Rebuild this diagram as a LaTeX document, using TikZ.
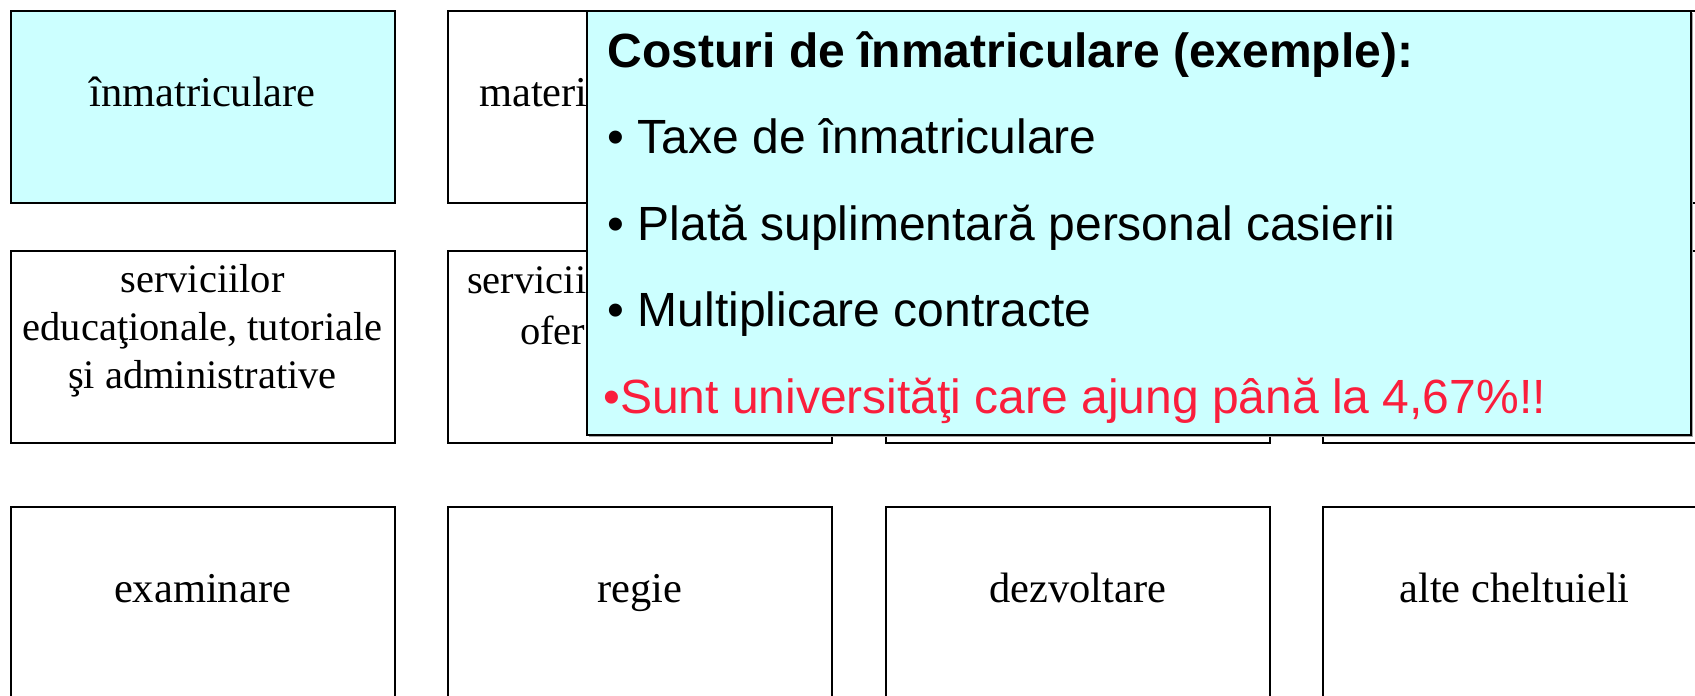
\documentclass[tikz,border=0pt]{standalone}
\usepackage{fontspec}
\setmainfont{Liberation Serif}
\newfontfamily\arialfont{Liberation Sans}
\usetikzlibrary{shadows}
\definecolor{cellcyan}{RGB}{204,255,255}
\definecolor{alertred}{RGB}{250,30,60}
\begin{document}
\begin{tikzpicture}[x=1pt,y=-1pt,
  cell/.style={draw=black, line width=2pt, fill=white, minimum width=384pt,
    minimum height=192pt, inner sep=0pt, outer sep=0pt},
  celltxt/.style={font=\fontsize{42.5}{51}\selectfont, inner sep=0pt, anchor=base},
  celltxtsm/.style={font=\fontsize{40.5}{48}\selectfont, inner sep=0pt, anchor=base},
  popup/.style={draw=black, line width=2pt, fill=cellcyan, inner sep=0pt,
    minimum width=1103.5pt, minimum height=424pt,
    drop shadow={shadow xshift=2pt, shadow yshift=-2pt, fill=gray!70, opacity=1}},
  popuptxt/.style={font=\arialfont\fontsize{48}{58}\selectfont, inner sep=0pt, anchor=base west}]

\useasboundingbox (0,0) rectangle (1695,696);
\clip (0,0) rectangle (1695,696);

% row 1
\node[cell, fill=cellcyan, minimum height=191.5pt] (r1c1) at (202.5,106.75) {};
\node[cell, minimum height=191.5pt] (r1c2) at (640,106.75) {};
\node[cell, minimum height=191.5pt] (r1c3) at (1077.5,106.75) {};
\node[cell, minimum height=191.5pt] (r1c4) at (1514.5,106.75) {};
% row 2
\node[cell] (r2c1) at (202.5,347) {};
\node[cell] (r2c2) at (640,347) {};
\node[cell] (r2c3) at (1077.5,347) {};
\node[cell] (r2c4) at (1514.5,347) {};
% row 3
\node[cell] (r3c1) at (202.5,603) {};
\node[cell] (r3c2) at (640,603) {};
\node[cell] (r3c3) at (1077.5,603) {};
\node[cell] (r3c4) at (1514.5,603) {};

% texts
\node[celltxt] (t11) at (202.5,106) {înmatriculare};
\node[celltxt, anchor=base west] (t12) at (479,106) {materi};
\node[celltxtsm] (t21a) at (202.5,292) {serviciilor};
\node[celltxtsm] (t21b) at (202.5,340) {educaţionale, tutoriale};
\node[celltxtsm] (t21c) at (202.5,388) {şi administrative};
\node[celltxtsm, anchor=base west] (t22a) at (467,293) {servicii};
\node[celltxtsm, anchor=base west] (t22b) at (520,344) {ofer};
\node[celltxt] (t31) at (202.5,602) {examinare};
\node[celltxt] (t32) at (640,602) {regie};
\node[celltxt] (t33) at (1077.5,602) {dezvoltare};
\node[celltxt] (t34) at (1514.5,602) {alte cheltuieli};

% popup
\node[popup] (pop) at (1138.75,223) {};
\node[popuptxt, font=\arialfont\bfseries\fontsize{48}{58}\selectfont] (p0) at (607.5,67) {Costuri de înmatriculare (exemple):};
\node[popuptxt] (p1) at (607.5,153.5) {• Taxe de înmatriculare};
\node[popuptxt] (p2) at (607.5,240) {• Plată suplimentară personal casierii};
\node[popuptxt] (p3) at (607.5,326.5) {• Multiplicare contracte};
\node[popuptxt, text=alertred] (p4) at (603,413) {•Sunt universităţi care ajung până la 4,67\%!!};
\end{tikzpicture}
\end{document}
